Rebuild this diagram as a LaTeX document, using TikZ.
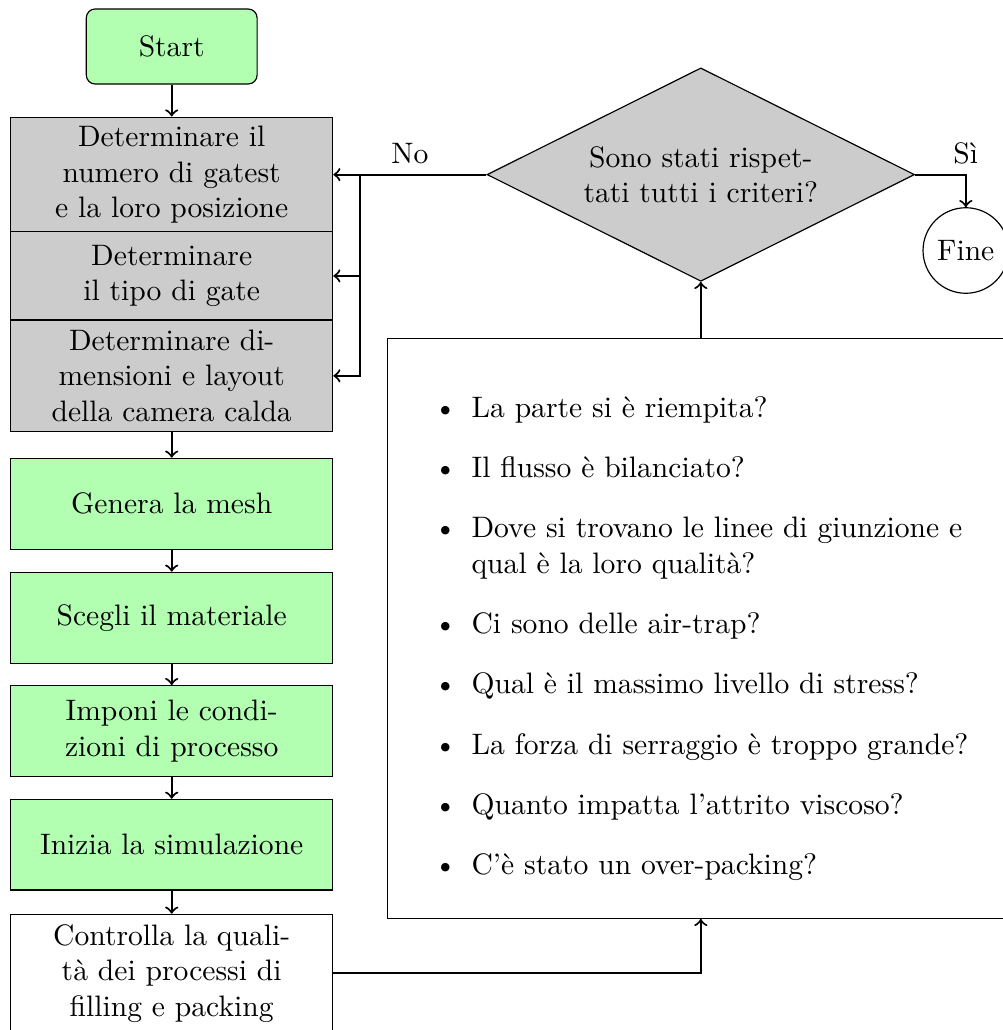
\documentclass[tikz,border=0pt]{standalone}
\usepackage{fontspec}
\usetikzlibrary{shapes.geometric,calc}
\begin{document}
\begin{tikzpicture}[x=0.33784pt,y=-0.33784pt,
  box/.style={draw, minimum width=108.78pt, align=center, inner sep=2pt},
  graybox/.style={box, fill=gray!40},
  greenbox/.style={box, fill=green!30},
  conn/.style={->, line width=0.7pt},
  lbl/.style={inner sep=3.333pt}
]
\useasboundingbox (0,0) rectangle (1003,1030);
\clip (0,0) rectangle (1003,1030);

\node[draw, rounded corners=3pt, fill=green!30, minimum width=57.7pt, minimum height=25.34pt] (start) at (171.7,46.5) {Start};
\node[graybox, minimum height=38.85pt] (g1) at (171.7,174.6) {Determinare il\\numero di gatest\\e la loro posizione};
\node[graybox, minimum height=29.83pt] (g2) at (171.7,275.9) {Determinare\\il tipo di gate};
\node[graybox, minimum height=37.74pt] (g3) at (171.7,375.8) {Determinare di-\\mensioni e layout\\della camera calda};
\node[greenbox, minimum height=30.74pt] (mesh) at (171.7,503.8) {Genera la mesh};
\node[greenbox, minimum height=30.74pt] (mat) at (171.7,617.8) {Scegli il materiale};
\node[greenbox, minimum height=30.74pt] (proc) at (171.7,731.2) {Imponi le condi-\\zioni di processo};
\node[greenbox, minimum height=30.64pt] (sim) at (171.7,844.7) {Inizia la simulazione};
\node[box, minimum height=39.86pt] (ctrl) at (171.7,973.3) {Controlla la quali-\\tà dei processi di\\filling e packing};

\node[draw, fill=gray!40, diamond, aspect=2, minimum width=144.45pt, minimum height=72.1pt, align=center, inner sep=1pt] (dia) at (700.8,174.6) {Sono stati rispet-\\tati tutti i criteri?};
\node[draw, circle, minimum size=28.9pt, inner sep=1pt] (fine) at (965.8,250.5) {Fine};

\node[draw, text width=204.86pt, minimum height=195.9pt, align=left, inner sep=3.333pt] (crit) at (700.8,628.4) {%
\vspace{-6pt}%
\begin{itemize}\setlength{\itemsep}{8.37pt}\setlength{\parsep}{0pt}\setlength{\parskip}{0pt}
\item La parte si è riempita?
\item Il flusso è bilanciato?
\item Dove si trovano le linee di giunzione e qual è la loro qualità?
\item Ci sono delle air-trap?
\item Qual è il massimo livello di stress?
\item La forza di serraggio è troppo grande?
\item Quanto impatta l'attrito viscoso?
\item C'è stato un over-packing?
\end{itemize}};

\draw[conn] (start) -- (g1);
\draw[conn] (g3) -- (mesh);
\draw[conn] (mesh) -- (mat);
\draw[conn] (mat) -- (proc);
\draw[conn] (proc) -- (sim);
\draw[conn] (sim) -- (ctrl);
\draw[conn] (ctrl.east) -| (crit.south);
\draw[conn] (crit.north) -- (dia.south);
\draw[conn] (dia.west) -- node[lbl, above]{No} (g1.east);
\coordinate (split) at (360,174.6);
\draw[conn] (split) |- (g2.east);
\draw[conn] (split) |- (g3.east);
\draw[conn] (dia.east) -| node[lbl, above, pos=0.5]{Sì} (fine.north);
\end{tikzpicture}
\end{document}
